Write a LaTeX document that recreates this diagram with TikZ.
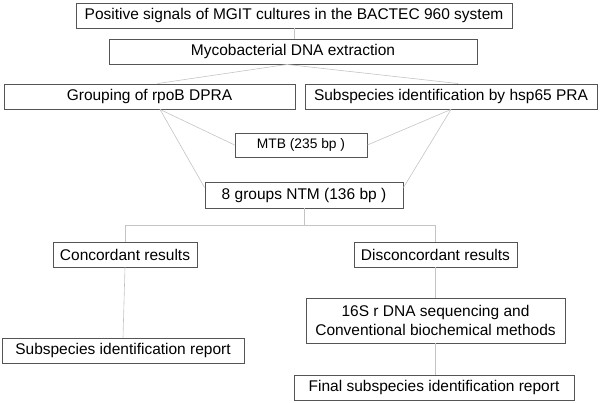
\documentclass[tikz,border=0pt]{standalone}
\usepackage{fontspec}
\setmainfont{Liberation Sans}
\usetikzlibrary{calc}
\definecolor{boxgray}{HTML}{555555}
\definecolor{conngray}{HTML}{C4C4C4}
\tikzset{
  box/.style={draw=boxgray, line width=0.9pt, inner sep=0pt, fill=white, align=center,
    font=\fontsize{15.5}{19}\selectfont},
  smallbox/.style={box, font=\fontsize{13.8}{16}\selectfont},
  conn/.style={draw=conngray, line width=0.6pt}
}
\begin{document}
\begin{tikzpicture}[x=1pt,y=-1pt]
\useasboundingbox (0,0) rectangle (600,403);
\node[box, minimum width=436pt, minimum height=25pt] (b1) at (294,15.5) {Positive signals of MGIT cultures in the BACTEC 960 system};
\node[box, minimum width=368pt, minimum height=25pt] (b2) at (293,51.5) {Mycobacterial DNA extraction};
\node[box, minimum width=291pt, minimum height=25pt] (b3) at (149.5,96.5) {Grouping of rpoB DPRA};
\node[box, minimum width=292pt, minimum height=25pt] (b4) at (451,96.5) {Subspecies identification by hsp65 PRA};
\node[smallbox, minimum width=132pt, minimum height=24pt] (mtb) at (301,145) {MTB (235 bp )};
\node[box, minimum width=198pt, minimum height=26pt] (ntm) at (304,195) {8 groups NTM (136 bp )};
\node[box, minimum width=144pt, minimum height=25pt] (conc) at (125,254.5) {Concordant results};
\node[box, minimum width=163pt, minimum height=25pt] (disc) at (435.5,254.5) {Disconcordant results};
\node[box, minimum width=259pt, minimum height=45pt] (seq) at (435.5,320.5) {16S r DNA sequencing and\\Conventional biochemical methods};
\node[box, minimum width=242pt, minimum height=25pt] (rep) at (123,350.5) {Subspecies identification report};
\node[box, minimum width=280pt, minimum height=25pt] (fin) at (434,387.5) {Final subspecies identification report};
\coordinate (j) at (305,225);
\begin{scope}[on background layer/.try]
\end{scope}
\draw[conn] (b1.south) -- (b1.south |- b2.north);
\draw[conn] ([xshift=-6pt]b2.south) -- ([xshift=8pt]b3.north);
\draw[conn] ([xshift=-6pt]b2.south) -- ([xshift=7pt]b4.north);
\draw[conn] ([xshift=10.5pt]b3.south) -- (mtb.west);
\draw[conn] ([xshift=10.5pt]b3.south) -- ([yshift=-6pt]ntm.north west);
\draw[conn] (b4.south) -- (mtb.east);
\draw[conn] (b4.south) -- ([yshift=-6pt]ntm.north east);
\draw[conn] (ntm.south) -- (ntm.south |- j);
\draw[conn] (conc.north |- j) -- (disc.north |- j);
\draw[conn] (conc.north |- j) -- (conc.north);
\draw[conn] (disc.north |- j) -- (disc.north);
\draw[conn] (conc.south) -- (rep.north);
\draw[conn] (disc.south) -- (seq.north);
\draw[conn] (seq.south) -- (seq.south |- fin.north);
\end{tikzpicture}
\end{document}
